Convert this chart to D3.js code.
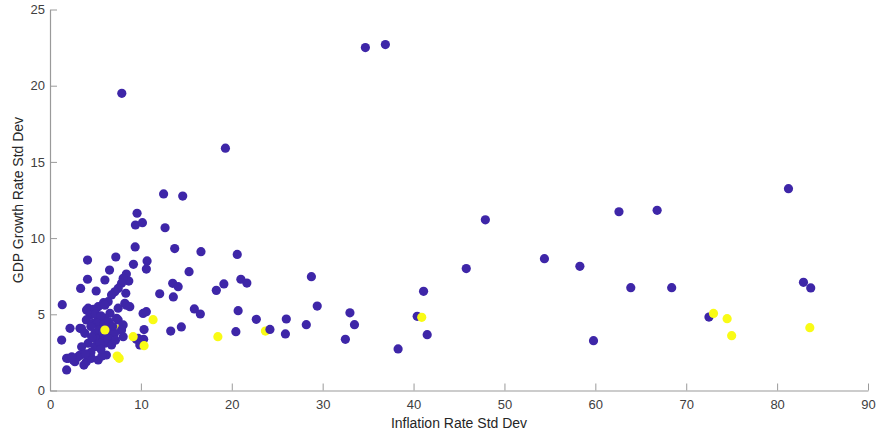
<!DOCTYPE html>
<html>
<head>
<meta charset="utf-8">
<script src="https://cdn.jsdelivr.net/npm/d3@7"></script>
<style>
  body { margin: 0; background: #fff; }
  svg text { font-family: "Liberation Sans", Arial, Helvetica, sans-serif; }
</style>
</head>
<body>
<div id="chart"></div>
<script>
// Inflation std dev (x), GDP growth std dev (y), group (0 = blue, 1 = yellow)
const inflationSD = [
  7.68,
  34.7, 36.9, 7.9, 19.3, 81.25, 12.5, 14.6, 9.58, 9.4, 10.17, 12.66, 9.37, 13.72, 16.61, 20.6,
  4.13, 7.24, 9.18, 10.68, 6.55, 10.6, 15.3, 13.5, 14.1, 12.07, 13.57, 19.13, 18.3, 21.0, 21.66,
  28.76, 15.88, 16.54, 20.7, 22.7, 26.0, 29.4, 33.0, 33.5, 28.2, 13.28, 14.45, 20.45, 25.9, 32.5,
  38.3, 40.4, 47.9, 62.6, 66.8, 45.8, 54.4, 58.3, 63.9, 68.4, 41.1, 41.5, 59.8, 82.9, 83.7, 72.5,
  8.4, 8.67, 8.05, 7.87, 7.5, 7.13, 6.77, 6.04, 4.13, 3.37, 5.08, 8.34, 6.4, 8.23, 5.89, 1.35,
  4.2, 5.3, 6.04, 8.4, 8.78, 7.5, 4.76, 4.02, 6.6, 4.94, 4.4, 5.3, 6.04, 7.5, 7.32, 4.0, 4.75,
  5.67, 8.05, 3.3, 2.2, 3.47, 7.87, 3.84, 4.94, 6.4, 7.1, 5.67, 8.05, 6.4, 4.2, 6.04, 3.48, 4.94,
  6.77, 1.28, 10.24, 10.6, 10.35, 9.7, 9.5, 10.3, 9.88,
  2.0, 2.74, 3.3, 4.0, 4.57, 5.3, 6.2, 5.71, 1.83, 3.73, 2.56, 3.1, 1.83,
  5.0, 5.6, 5.2, 5.9, 5.4, 5.0, 5.5, 4.6, 5.8, 6.1, 4.5, 6.5, 5.6, 4.5, 3.9, 2.4, 6.9, 7.2,
  6.04, 11.34, 9.15, 10.35, 7.39, 7.61, 18.47, 23.7, 24.2, 40.9, 73.0, 74.5, 75.0, 83.6
];
const gdpGrowthSD = [
  4.04,
  22.5, 22.7, 19.5, 15.9, 13.24, 12.9, 12.76, 11.63, 10.86, 11.01, 10.68, 9.42, 9.31, 9.11, 8.93,
  8.56, 8.76, 8.28, 8.5, 7.9, 7.97, 7.8, 7.03, 6.81, 6.35, 6.14, 6.99, 6.57, 7.3, 7.05,
  7.47, 5.35, 5.02, 5.24, 4.67, 4.69, 5.54, 5.1, 4.32, 4.32, 3.9, 4.17, 3.86, 3.71, 3.36,
  2.73, 4.87, 11.2, 11.73, 11.82, 8.0, 8.65, 8.15, 6.75, 6.75, 6.51, 3.66, 3.27, 7.1, 6.73, 4.82,
  7.64, 7.18, 7.36, 7.03, 6.7, 6.48, 6.27, 7.25, 7.3, 6.7, 6.53, 6.38, 5.83, 5.72, 5.76, 5.63,
  5.4, 5.5, 5.6, 5.6, 5.5, 5.4, 5.33, 5.28, 5.07, 5.17, 4.95, 4.74, 4.74, 4.63, 4.74, 4.63, 4.41,
  4.19, 4.3, 4.08, 4.08, 4.06, 3.97, 3.75, 3.75, 3.75, 3.75, 3.53, 3.53, 3.42, 3.1, 3.1, 2.87, 2.87,
  2.99, 3.31, 5.06, 5.17, 4.0, 3.42, 3.36, 3.36, 2.99,
  2.11, 1.89, 2.33, 1.89, 2.11, 2.0, 2.33, 2.26, 1.35, 1.67, 2.0, 2.22, 2.11,
  5.0, 4.9, 4.4, 4.3, 4.0, 3.4, 3.1, 3.5, 3.8, 4.0, 4.2, 4.5, 2.7, 2.5, 2.4, 2.2, 4.2, 3.3,
  3.97, 4.65, 3.53, 2.94, 2.26, 2.11, 3.53, 3.9, 4.01, 4.8, 5.06, 4.71, 3.6, 4.12
];
const group = [
  1,
  0, 0, 0, 0, 0, 0, 0, 0, 0, 0, 0, 0, 0, 0, 0,
  0, 0, 0, 0, 0, 0, 0, 0, 0, 0, 0, 0, 0, 0, 0,
  0, 0, 0, 0, 0, 0, 0, 0, 0, 0, 0, 0, 0, 0, 0,
  0, 0, 0, 0, 0, 0, 0, 0, 0, 0, 0, 0, 0, 0, 0, 0,
  0, 0, 0, 0, 0, 0, 0, 0, 0, 0, 0, 0, 0, 0, 0, 0,
  0, 0, 0, 0, 0, 0, 0, 0, 0, 0, 0, 0, 0, 0, 0, 0, 0,
  0, 0, 0, 0, 0, 0, 0, 0, 0, 0, 0, 0, 0, 0, 0, 0, 0,
  0, 0, 0, 0, 0, 0, 0, 0, 0,
  0, 0, 0, 0, 0, 0, 0, 0, 0, 0, 0, 0, 0,
  0, 0, 0, 0, 0, 0, 0, 0, 0, 0, 0, 0, 0, 0, 0, 0, 0, 0,
  1, 1, 1, 1, 1, 1, 1, 1, 0, 1, 1, 1, 1, 1
];
const xTicks = [0, 10, 20, 30, 40, 50, 60, 70, 80, 90];
const yTicks = [0, 5, 10, 15, 20, 25];

const width = 876, height = 434;
const margin = { left: 50, right: 8, top: 9.5, bottom: 43.5 };

const color = (g) => g === 1 ? "#f9fb15" : "#3e26a8";

const svg = d3.select("#chart").append("svg")
  .attr("width", width)
  .attr("height", height);

const x = d3.scaleLinear().domain([0, 90]).range([margin.left, width - margin.right]);
const y = d3.scaleLinear().domain([0, 25]).range([height - margin.bottom, margin.top]);

const points = inflationSD.map((v, i) => ({ x: v, y: gdpGrowthSD[i], g: group[i] }));

// x axis, ticks pointing in
const gx = svg.append("g")
  .attr("transform", "translate(0," + y(0) + ")")
  .call(d3.axisBottom(x).tickValues(xTicks).tickSizeInner(-7).tickSizeOuter(0).tickPadding(9));

// y axis
const gy = svg.append("g")
  .attr("transform", "translate(" + x(0) + ",0)")
  .call(d3.axisLeft(y).tickValues(yTicks).tickSizeInner(-7).tickSizeOuter(0).tickPadding(5));

[gx, gy].forEach(g => {
  g.select(".domain").attr("stroke", "#9a9a9a").attr("stroke-width", 1.2);
  g.selectAll(".tick line").attr("stroke", "#9a9a9a");
  g.selectAll(".tick text").attr("fill", "#404040").style("font-size", "13px");
});

svg.append("g")
  .selectAll("circle")
  .data(points)
  .enter().append("circle")
  .attr("cx", d => x(d.x))
  .attr("cy", d => y(d.y))
  .attr("r", 4.6)
  .attr("fill", d => color(d.g));

svg.append("text")
  .attr("x", (x(0) + x(90)) / 2)
  .attr("y", 428)
  .attr("text-anchor", "middle")
  .attr("fill", "#262626")
  .style("font-size", "14px")
  .text("Inflation Rate Std Dev");

svg.append("text")
  .attr("transform", "translate(23," + (y(0) + y(25)) / 2 + ") rotate(-90)")
  .attr("text-anchor", "middle")
  .attr("fill", "#262626")
  .style("font-size", "14px")
  .text("GDP Growth Rate Std Dev");
</script>
</body>
</html>
